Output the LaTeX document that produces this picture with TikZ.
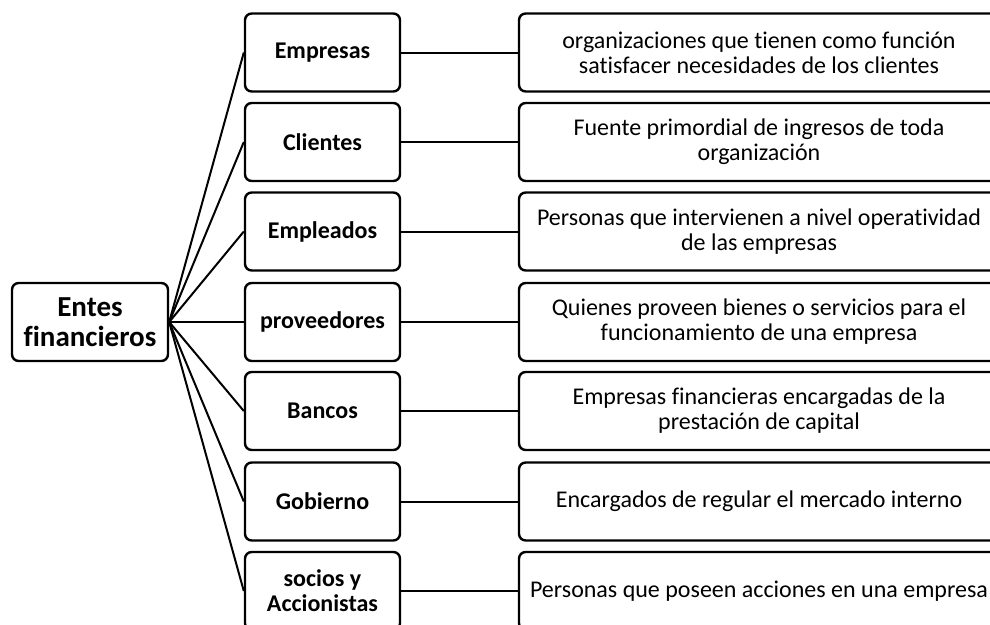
\documentclass[tikz,border=0pt]{standalone}
\usepackage{fontspec}
\setmainfont{Carlito}[Ligatures=NoCommon]
\usepackage{tikz}

\begin{document}
\begin{tikzpicture}
  [x=0.75pt,y=-0.75pt,
   caja/.style={draw=black, line width=1.8pt, rounded corners=5pt, align=center, inner sep=2pt},
   raiz/.style={caja, minimum width=117pt, minimum height=58.5pt, font=\fontsize{21.75}{22.5}\selectfont\bfseries},
   tipo/.style={caja, minimum width=116.25pt, minimum height=58.5pt, font=\fontsize{18}{18.75}\selectfont\bfseries},
   desc/.style={caja, minimum width=360pt, minimum height=58.5pt, font=\fontsize{18}{18.75}\selectfont}]
  \useasboundingbox (0,0) rectangle (990,625);
  \clip (0,0) rectangle (990,625);

  \node [raiz] (R) at (90,322) {Entes\\financieros};

  \node [tipo] (A) at (322.5,52.5) {Empresas};
  \node [tipo] (B) at (322.5,142) {Clientes};
  \node [tipo] (C) at (322.5,231.5) {Empleados};
  \node [tipo] (D) at (322.5,322) {proveedores};
  \node [tipo] (E) at (322.5,411) {Bancos};
  \node [tipo] (F) at (322.5,501.5) {Gobierno};
  \node [tipo] (G) at (322.5,591) {socios y\\Accionistas};

  \node [desc] (AA) at (759,52.5) {organizaciones que tienen como función\\satisfacer necesidades de los clientes};
  \node [desc] (BB) at (759,142) {Fuente primordial de ingresos de toda\\organización};
  \node [desc] (CC) at (759,231.5) {Personas que intervienen a nivel operatividad\\de las empresas};
  \node [desc] (DD) at (759,322) {Quienes proveen bienes o servicios para el\\funcionamiento de una empresa};
  \node [desc] (EE) at (759,411) {Empresas financieras encargadas de la\\prestación de capital};
  \node [desc] (FF) at (759,501.5) {Encargados de regular el mercado interno};
  \node [desc] (GG) at (759,591) {Personas que poseen acciones en una empresa};

  \path [-] [line width=1.5pt]
  (R.east) edge (A.west)
  (R.east) edge (B.west)
  (R.east) edge (C.west)
  (R.east) edge (D.west)
  (R.east) edge (E.west)
  (R.east) edge (F.west)
  (R.east) edge (G.west)

  (A) edge (AA)
  (B) edge (BB)
  (C) edge (CC)
  (D) edge (DD)
  (E) edge (EE)
  (F) edge (FF)
  (G) edge (GG);

\end{tikzpicture}
\end{document}
